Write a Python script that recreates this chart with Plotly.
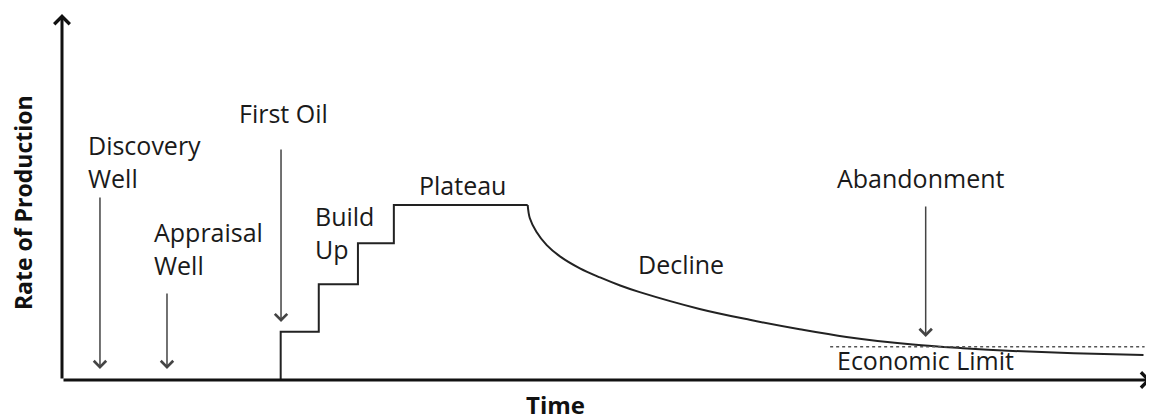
import plotly.graph_objects as go

# ---- data (schematic units: time 0..100, rate with plateau = 100) ----
build_time = [20.1, 20.1, 23.6, 27.2, 30.5, 42.8]
build_rate = [0, 27.6, 54.7, 78.1, 100, 100]

decline_time = [42.8, 43.0, 43.6, 44.55, 45.8, 47.6, 49.45, 51.3, 53.1, 58.6, 63.2, 67.8, 72.1, 78.2, 82.8, 87.4, 93.0, 99.4]
decline_rate = [100, 92.4, 84.7, 77.1, 70.5, 63.8, 58.6, 54.0, 50.2, 40.6, 34.4, 29.0, 24.6, 20.3, 18.2, 16.6, 15.3, 14.3]

econ_limit_rate = 19.0
econ_limit_time = [70.6, 99.5]

# event arrows: (time, arrow top rate, arrow tip rate)
event_time = [3.49, 9.65, 20.13, 79.38]
event_top = [105.1, 50.3, 132.6, 100.0]
event_tip = [6.3, 6.3, 33.1, 24.6]

# labels (text, left time, rate at text middle)
label_text = ["Discovery<br>Well", "Appraisal<br>Well", "First Oil", "Build<br>Up",
              "Plateau", "Decline", "Abandonment", "Economic Limit"]
label_time = [2.21, 8.27, 16.08, 23.07, 32.6, 52.76, 71.05, 71.05]
label_rate = [124.9, 75.15, 152.3, 84.1, 111.4, 66.4, 115.4, 11.4]

x_title = "Time"
y_title = "Rate of Production"

axis_end_time = 100.1
axis_end_rate = 209.1

FONT = "Open Sans, Noto Sans, sans-serif"

fig = go.Figure()

fig.add_trace(go.Scatter(x=build_time, y=build_rate, mode="lines",
                         line=dict(color="#222222", width=2, shape="hv"),
                         hoverinfo="skip", showlegend=False))
fig.add_trace(go.Scatter(x=decline_time, y=decline_rate, mode="lines",
                         line=dict(color="#222222", width=2, shape="spline", smoothing=1.0),
                         hoverinfo="skip", showlegend=False))
fig.add_trace(go.Scatter(x=econ_limit_time, y=[econ_limit_rate] * len(econ_limit_time), mode="lines",
                         line=dict(color="#555555", width=1.5, dash="3px,3px"),
                         hoverinfo="skip", showlegend=False))

annotations = []
# axes with arrowheads
annotations.append(dict(x=axis_end_time, y=0, ax=0, ay=0, xref="x", yref="y", axref="x", ayref="y",
                        text="", showarrow=True, arrowhead=4, arrowsize=1.0, arrowwidth=3,
                        arrowcolor="#111111", standoff=0))
annotations.append(dict(x=0, y=axis_end_rate, ax=0, ay=0, xref="x", yref="y", axref="x", ayref="y",
                        text="", showarrow=True, arrowhead=4, arrowsize=1.0, arrowwidth=3,
                        arrowcolor="#111111", standoff=0))
# event arrows
for t, top, tip in zip(event_time, event_top, event_tip):
    annotations.append(dict(x=t, y=tip, ax=t, ay=top, xref="x", yref="y", axref="x", ayref="y",
                            text="", showarrow=True, arrowhead=4, arrowsize=1.6, arrowwidth=1.5,
                            arrowcolor="#444444", standoff=0))
# labels
for txt, t, r in zip(label_text, label_time, label_rate):
    annotations.append(dict(x=t, y=r, xref="x", yref="y", text=txt, showarrow=False,
                            xanchor="left", yanchor="middle", align="left",
                            font=dict(family=FONT, size=25, color="#1a1a1a")))
# axis titles
annotations.append(dict(x=45.36, y=-14.0, xref="x", yref="y", text=x_title, showarrow=False,
                        xanchor="center", yanchor="middle",
                        font=dict(family=FONT, size=24, color="#111111", weight="bold")))
annotations.append(dict(x=-3.58, y=101.1, xref="x", yref="y", text=y_title, showarrow=False,
                        textangle=-90, xanchor="center", yanchor="middle",
                        font=dict(family=FONT, size=23, color="#111111", weight="bold")))

fig.update_layout(
    width=1154, height=420,
    margin=dict(l=0, r=0, t=0, b=0),
    paper_bgcolor="white", plot_bgcolor="white",
    annotations=annotations,
    xaxis=dict(range=[-4.963, 101.10], showgrid=False, zeroline=False, showticklabels=False,
               showline=False, ticks="", fixedrange=True),
    yaxis=dict(range=[-27.43, 212.57], showgrid=False, zeroline=False, showticklabels=False,
               showline=False, ticks="", fixedrange=True),
    showlegend=False,
)

fig.write_html("out.html")
